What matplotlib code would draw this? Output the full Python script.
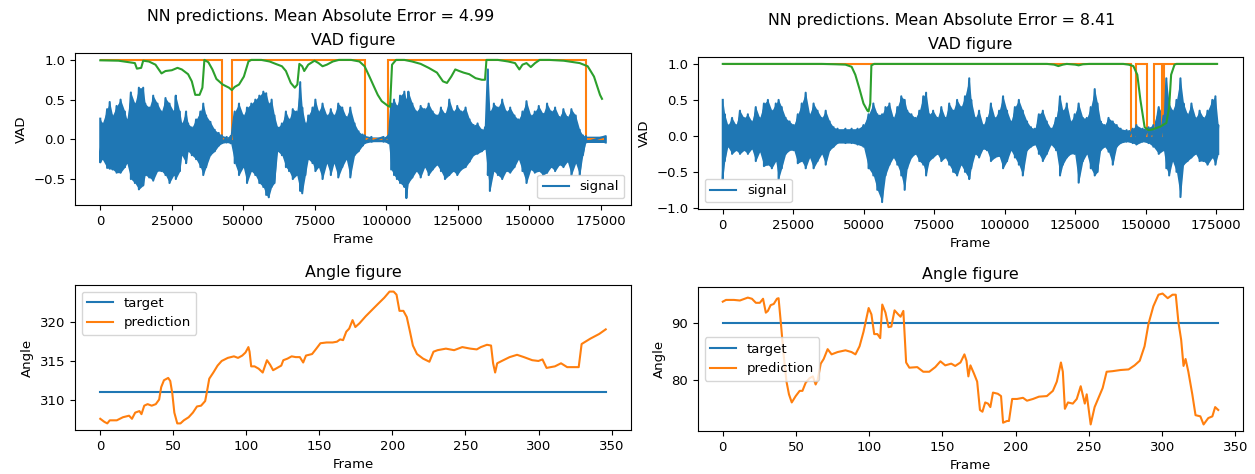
import numpy as np
import matplotlib
matplotlib.use("Agg")
import matplotlib.pyplot as plt
from matplotlib.ticker import MultipleLocator

# ---- left run (MAE 4.99) ----
mae_left = 4.99
# audio signal envelope: frame, upper peak, lower peak
sig_l_frames = [0, 700, 2400, 3300, 4300, 5700, 7100, 8600, 9300, 10700, 12100, 13500, 15000, 15700,
                17100, 18500, 20000, 21400, 22800, 24200, 25700, 26400, 27800, 28500, 30000, 30700,
                32000, 33500, 35000, 36000, 37000, 38500, 40000, 41400, 42500, 44200, 45600, 47000,
                48500, 50000, 51300, 52800, 54200, 55600, 57000, 58000, 58900, 59900, 60900, 62000,
                63500, 64900, 66000, 67300, 68700, 69900, 70600, 71700, 72700, 74200, 75200, 76300,
                77700, 79200, 80600, 81700, 83200, 84600, 86000, 87400, 88900, 90300, 91700, 92400,
                94800, 99000, 100800, 101700, 102700, 103700, 104800, 106300, 107000, 107700, 109100,
                110500, 112000, 113400, 114800, 116200, 117700, 119100, 120500, 122000, 123400,
                124800, 126200, 127700, 129100, 130500, 131900, 133400, 134500, 135500, 136200,
                137600, 139000, 140500, 141900, 143300, 144800, 146200, 147600, 149000, 150500,
                151900, 153300, 154800, 156200, 157600, 159000, 160500, 161900, 163300, 164700,
                166200, 167600, 168700, 169700, 176700]
sig_l_upper = [0.26, 0.20, 0.38, 0.47, 0.30, 0.42, 0.50, 0.35, 0.25, 0.59, 0.45, 0.65, 0.65, 0.45,
               0.40, 0.55, 0.45, 0.35, 0.52, 0.45, 0.35, 0.55, 0.35, 0.20, 0.35, 0.20,
               0.15, 0.25, 0.35, 0.45, 0.30, 0.22, 0.12, 0.08, 0.05, 0.03, 0.04, 0.35,
               0.45, 0.30, 0.40, 0.45, 0.50, 0.55, 0.60, 0.58, 0.45, 0.50, 0.30, 0.15,
               0.20, 0.35, 0.25, 0.38, 0.35, 0.72, 0.40, 0.20, 0.30, 0.40, 0.50, 0.35,
               0.45, 0.30, 0.38, 0.30, 0.45, 0.40, 0.28, 0.40, 0.20, 0.10, 0.06, 0.05,
               0.03, 0.03, 0.05, 0.45, 0.50, 0.42, 0.55, 0.60, 0.50, 0.60, 0.45,
               0.35, 0.42, 0.38, 0.45, 0.35, 0.30, 0.40, 0.32, 0.50, 0.35,
               0.42, 0.35, 0.40, 0.25, 0.18, 0.20, 0.12, 0.15, 0.88, 0.35,
               0.45, 0.40, 0.50, 0.35, 0.40, 0.30, 0.25, 0.35, 0.48, 0.30,
               0.35, 0.42, 0.32, 0.45, 0.35, 0.40, 0.28, 0.38, 0.28, 0.38,
               0.30, 0.12, 0.05, 0.04, 0.04]
sig_l_lower = [-0.29, -0.25, -0.36, -0.37, -0.38, -0.42, -0.42, -0.35, -0.30, -0.50, -0.55, -0.63, -0.58, -0.45,
               -0.48, -0.52, -0.40, -0.40, -0.45, -0.55, -0.45, -0.50, -0.40, -0.20, -0.30, -0.15,
               -0.20, -0.25, -0.35, -0.45, -0.35, -0.20, -0.15, -0.08, -0.05, -0.04, -0.05, -0.30,
               -0.45, -0.35, -0.55, -0.40, -0.45, -0.55, -0.60, -0.70, -0.73, -0.60, -0.55, -0.15,
               -0.20, -0.35, -0.40, -0.50, -0.45, -0.65, -0.68, -0.45, -0.25, -0.30, -0.40, -0.35,
               -0.50, -0.30, -0.45, -0.30, -0.48, -0.35, -0.25, -0.48, -0.20, -0.15, -0.08, -0.05,
               -0.03, -0.03, -0.05, -0.38, -0.45, -0.50, -0.55, -0.60, -0.74, -0.55, -0.48,
               -0.40, -0.48, -0.35, -0.45, -0.38, -0.32, -0.40, -0.50, -0.45, -0.40,
               -0.45, -0.38, -0.35, -0.28, -0.20, -0.18, -0.15, -0.12, -0.45, -0.65,
               -0.40, -0.45, -0.50, -0.40, -0.42, -0.35, -0.25, -0.40, -0.55, -0.38,
               -0.42, -0.40, -0.45, -0.42, -0.35, -0.40, -0.32, -0.35, -0.28, -0.45,
               -0.30, -0.45, -0.20, -0.04, -0.04]
# target VAD (step)
vad_l_edges = [0, 42500, 46100, 92400, 100700, 169700, 176000]
vad_l_levels = [1, 0, 1, 0, 1, 0]
# predicted VAD
pred_l_frames = [0, 6400, 12100, 12800, 14300, 15000, 17000, 19300, 21400, 22800, 25000, 27000,
                 28500, 30700, 32000, 33200, 34700, 35700, 36400, 37800, 39200, 40600, 42800,
                 45000, 46000, 47000, 48500, 50200, 51800, 52800, 56300, 59200, 61300, 63500,
                 64900, 66600, 68000, 68900, 69600, 70600, 71300, 72700, 74900, 76300, 77700,
                 79200, 81300, 83400, 87700, 90600, 92400, 94100, 95600, 97000, 98400, 100600,
                 101300, 102000, 103400, 106300, 109000, 112000, 114800, 117700, 119800, 121200,
                 122700, 124100, 125500, 127000, 129000, 131200, 133400, 134500, 135000, 139000,
                 142600, 145000, 146500, 147600, 149000, 150500, 152000, 153600, 157000, 162000,
                 167600, 170400, 172600, 174700, 175400]
pred_l_vad = [0.995, 0.99, 0.96, 0.89, 0.90, 0.99, 0.98, 0.94, 0.83, 0.86, 0.87, 0.90,
              0.88, 0.82, 0.73, 0.56, 0.56, 0.65, 1.0, 0.97, 0.88, 0.76, 0.69,
              0.65, 0.62, 0.66, 0.69, 0.79, 0.98, 1.0, 1.0, 0.98, 0.95, 0.92,
              0.86, 0.71, 0.65, 0.69, 0.95, 0.92, 0.86, 0.94, 0.99, 0.96, 0.92,
              0.94, 0.98, 1.0, 1.0, 0.98, 0.92, 0.79, 0.67, 0.56, 0.48, 0.42,
              0.41, 0.94, 1.0, 1.0, 0.98, 0.95, 0.90, 0.84, 0.73, 0.71,
              0.79, 0.88, 0.86, 0.84, 0.82, 0.77, 0.75, 0.75, 1.0, 1.0,
              0.98, 0.96, 0.88, 0.94, 0.96, 0.91, 0.96, 1.0, 1.0, 0.99,
              0.96, 0.92, 0.79, 0.56, 0.51]
# angle
ang_l_target = 311
ang_l_frames = [0, 2.8, 4.8, 6.5, 11.3, 15.5, 19.7, 21.7, 23.9, 26.8, 28.2, 30.1, 32.4, 35.2, 38, 40.3,
                41.7, 43.6, 46.5, 47.9, 49.3, 50.7, 52.7, 54.9, 57.2, 60.5, 63.4, 66.2, 69, 71.8,
                73.2, 74.6, 77.4, 80.3, 83.1, 87.3, 91.5, 94.3, 97.2, 99.4, 101.4, 102.2, 103.3,
                105.6, 108.4, 111.2, 114.1, 116.3, 118.3, 121.1, 123.9, 125.3, 128.1, 131, 133.8,
                136.6, 138.9, 140.8, 145, 147.9, 150.7, 154.9, 159.1, 162, 164.2, 166.2, 168.4,
                170.4, 172.7, 174.6, 177.5, 181.7, 185.9, 190.1, 194.4, 198, 200.8, 202.8, 204.8,
                207.5, 209.8, 212, 214, 216.8, 221, 225.3, 228.1, 230.9, 236.6, 242.2, 247.8,
                253.4, 257.7, 260.5, 264.7, 267.5, 268.9, 270.3, 271.7, 275.9, 280.2, 285.3, 290,
                295.7, 299.9, 302.7, 305.5, 308.3, 311.2, 315.4, 319.6, 325.2, 327.5, 329.5, 335.5,
                341.5, 346]
ang_l_pred = [307.5, 307.1, 306.9, 307.3, 307.3, 307.7, 307.9, 307.5, 308.3, 308.5, 308.1, 309.2, 309.4,
              309.2, 309.4, 310.0, 311.6, 312.5, 312.8, 312.4, 310.8, 308.3, 306.9, 306.9, 307.3,
              307.7, 308.3, 309.1, 309.2, 309.8, 311.2, 312.7, 313.5, 314.4, 315.0, 315.4, 315.6,
              315.4, 315.7, 316.1, 316.8, 316.2, 314.3, 314.3, 314.0, 313.5, 315.1, 314.5, 313.8,
              314.1, 314.4, 315.1, 315.3, 315.6, 315.5, 315.5, 314.8, 315.7, 315.9, 316.6, 317.3,
              317.4, 317.4, 317.5, 317.8, 317.7, 318.8, 319.2, 320.3, 319.4, 319.9, 320.8, 321.6,
              322.4, 323.2, 324.0, 324.0, 323.6, 321.5, 321.5, 320.7, 318.8, 317.0, 315.9, 315.3,
              314.9, 316.2, 316.4, 316.6, 316.4, 316.8, 316.6, 316.5, 316.8, 317.1, 317.0, 314.7,
              313.5, 314.7, 315.1, 315.5, 315.8, 315.5, 315.1, 315.0, 315.2, 314.1, 314.2, 314.3,
              314.7, 314.2, 314.2, 314.2, 317.2, 317.9, 318.5, 319.1]

# ---- right run (MAE 8.41) ----
mae_right = 8.41
sig_r_frames = [0, 700, 1800, 3300, 4700, 6100, 7500, 8900, 10300, 11700, 13100, 14600, 16000, 17400,
                18800, 19800, 20900, 22300, 23700, 25200, 26600, 28000, 29400, 30800, 32200, 33600,
                35100, 36500, 37900, 39300, 40700, 43500, 45700, 47800, 49900, 51700, 53400, 54800,
                56500, 57700, 59100, 60500, 61900, 63300, 64500, 65400, 66900, 68300, 69700, 71100,
                72100, 73200, 74600, 76100, 77500, 78900, 80300, 81700, 83100, 84500, 85900, 87400,
                88100, 89500, 90900, 92300, 93700, 95100, 96500, 98000, 99400, 100800, 102200,
                103600, 105000, 106400, 107900, 109300, 110700, 112100, 113500, 114900, 116400,
                118200, 119600, 120600, 122000, 123400, 124800, 126200, 127700, 129100, 130500,
                131900, 132900, 134000, 135400, 136800, 138300, 139700, 141100, 143200, 145400,
                146700, 148900, 151000, 152700, 154600, 156300, 157300, 158300, 159500, 160900,
                162300, 163400, 164800, 166200, 167700, 169100, 170500, 171900, 173600, 174700, 175700]
sig_r_upper = [0.50, 0.30, 0.15, 0.25, 0.15, 0.35, 0.25, 0.30, 0.20, 0.40, 0.25, 0.45, 0.50, 0.35,
               0.45, 0.50, 0.40, 0.25, 0.20, 0.15, 0.30, 0.45, 0.60, 0.30, 0.45, 0.35,
               0.25, 0.35, 0.20, 0.12, 0.10, 0.10, 0.10, 0.10, 0.15, 0.30, 0.45, 0.30,
               0.30, 0.40, 0.45, 0.25, 0.40, 0.55, 0.50, 0.35, 0.30, 0.25, 0.35, 0.55,
               0.60, 0.30, 0.35, 0.25, 0.40, 0.25, 0.45, 0.35, 0.50, 0.40, 0.55, 0.80,
               0.50, 0.25, 0.35, 0.15, 0.25, 0.45, 0.25, 0.35, 0.55, 0.35, 0.20,
               0.40, 0.50, 0.35, 0.20, 0.12, 0.10, 0.30, 0.35, 0.20, 0.10,
               0.25, 0.55, 0.35, 0.45, 0.20, 0.30, 0.45, 0.25, 0.25, 0.40,
               0.65, 0.45, 0.20, 0.15, 0.25, 0.20, 0.15, 0.10, 0.08, 0.10,
               0.15, 0.10, 0.12, 0.15, 0.40, 0.28, 0.80, 0.45, 0.35, 0.50,
               0.80, 0.45, 0.30, 0.45, 0.25, 0.35, 0.25, 0.35, 0.50, 0.55, 0.15]
sig_r_lower = [-0.60, -0.35, -0.15, -0.25, -0.20, -0.25, -0.20, -0.25, -0.18, -0.35, -0.22, -0.42, -0.40, -0.45,
               -0.35, -0.60, -0.45, -0.25, -0.20, -0.20, -0.38, -0.35, -0.45, -0.30, -0.45, -0.35,
               -0.25, -0.40, -0.20, -0.15, -0.10, -0.10, -0.10, -0.12, -0.15, -0.45, -0.55, -0.75,
               -0.92, -0.55, -0.40, -0.30, -0.40, -0.55, -0.75, -0.45, -0.30, -0.25, -0.35, -0.40,
               -0.55, -0.35, -0.30, -0.25, -0.35, -0.30, -0.40, -0.50, -0.55, -0.40, -0.50, -0.60,
               -0.45, -0.25, -0.30, -0.18, -0.20, -0.35, -0.30, -0.28, -0.45, -0.35, -0.20,
               -0.30, -0.40, -0.55, -0.20, -0.15, -0.12, -0.25, -0.35, -0.25, -0.12,
               -0.20, -0.55, -0.40, -0.30, -0.25, -0.25, -0.65, -0.35, -0.25, -0.45,
               -0.55, -0.50, -0.20, -0.15, -0.22, -0.40, -0.15, -0.10, -0.08, -0.10,
               -0.12, -0.08, -0.10, -0.15, -0.25, -0.20, -0.45, -0.55, -0.35, -0.50,
               -0.85, -0.40, -0.35, -0.30, -0.25, -0.35, -0.35, -0.40, -0.30, -0.40, -0.25]
vad_r_edges = [0, 144600, 146700, 150500, 152800, 155600, 156600, 175300]
vad_r_levels = [1, 0, 1, 0, 1, 0, 1]
pred_r_frames = [0, 35000, 40000, 43500, 45700, 47000, 48500, 49900, 51300, 51700, 52300, 52700,
                 53700, 115000, 117500, 119000, 120600, 122000, 125000, 126200, 127700, 130000,
                 142000, 143900, 145600, 147000, 148100, 149600, 151000, 152400, 155200, 157300,
                 158300, 159000, 160200, 160900, 175300]
pred_r_vad = [1.0, 1.0, 0.995, 0.99, 0.96, 0.85, 0.65, 0.45, 0.35, 0.34, 0.45, 0.98,
              1.0, 1.0, 0.99, 0.97, 0.99, 1.0, 0.99, 0.98, 0.995, 1.0,
              1.0, 0.99, 0.97, 0.85, 0.5, 0.12, 0.08, 0.09, 0.13, 0.18,
              0.4, 0.85, 0.99, 1.0, 1.0]
ang_r_target = 90
ang_r_frames = [0, 2.2, 7.6, 11.7, 17.1, 19.9, 22.6, 25.3, 27.5, 29.4, 30.8, 32.7, 34.8, 37, 38.1, 39.7,
                41.6, 43.5, 45.2, 47.1, 49.8, 52.5, 54.4, 56.6, 59.3, 61.5, 63.4, 64.8, 66.9, 68.9,
                71.6, 74.3, 78.4, 83.8, 87.9, 90.6, 93.4, 96.1, 99.6, 101.5, 103.4, 105.6, 107.5,
                108.9, 111.1, 113.2, 115.1, 117.3, 119.8, 121.4, 123.3, 125.2, 127.4, 132.8, 136.9,
                141, 145.1, 148.6, 151.9, 156, 158.7, 162.3, 165, 166.4, 167.7, 169.1, 171.5, 173.7,
                175.6, 177.3, 179.2, 181.1, 182.7, 184.5, 187.8, 190, 191.4, 194.1, 195.4, 197.6,
                200.9, 205, 207.7, 211.8, 215.9, 221.3, 225.4, 228.1, 230.9, 232.2, 233.6, 235.7,
                239, 241.7, 244.4, 247.2, 248.5, 249.9, 251.2, 253.9, 256.7, 259.4, 262.1, 266.2,
                271.6, 277.1, 281.2, 284.7, 288, 290.7, 294, 297.5, 300.3, 303.8, 307.1, 309.3,
                311.1, 313, 314.6, 316, 317.9, 320.6, 322.8, 326.1, 328.3, 331.5, 334.3, 336.2, 338.3]
ang_r_pred = [93.6, 93.9, 93.9, 93.8, 94.3, 94.1, 93.4, 93.4, 94.1, 91.7, 92.0, 93.0, 93.2, 94.1, 94.2,
              89.8, 84.3, 79.8, 77.6, 76.2, 77.3, 78.2, 78.2, 79.6, 80.4, 80.7, 79.3, 80.1, 82.9,
              83.7, 85.4, 84.5, 84.9, 85.2, 84.9, 84.5, 85.9, 88.4, 92.5, 91.4, 88.0, 88.0, 87.3,
              93.1, 91.7, 89.2, 89.3, 92.1, 91.4, 91.0, 92.0, 83.1, 82.2, 82.3, 81.5, 81.5, 82.3,
              83.3, 82.6, 82.9, 82.5, 83.1, 84.5, 83.4, 80.7, 82.6, 81.2, 79.8, 74.9, 74.6, 76.2,
              76.0, 75.4, 77.9, 77.7, 77.3, 72.7, 73.0, 73.0, 76.8, 76.8, 77.0, 76.5, 76.8, 77.2,
              77.3, 78.2, 79.8, 83.1, 81.5, 75.1, 76.2, 76.0, 76.8, 79.0, 76.0, 77.6, 74.9, 72.4,
              75.4, 77.1, 78.7, 81.5, 81.6, 81.8, 81.9, 82.6, 83.4, 85.9, 89.8, 92.8, 94.8, 95.0,
              94.2, 94.8, 94.8, 90.1, 87.0, 82.5, 83.7, 81.5, 77.6, 74.0, 73.8, 72.4, 73.5, 73.8,
              75.4, 74.9]

W, H = 1255, 474
plt.rcParams['font.size'] = 9.5
fig = plt.figure(figsize=(W / 100, H / 100), dpi=100)


def px_axes(x0, x1, ytop, ybot):
    return fig.add_axes([x0 / W, 1 - ybot / H, (x1 - x0) / W, (ybot - ytop) / H])


def vad_panel(ax, frames, upper, lower, edges, levels, pframes, pvad, legend_loc):
    # dense audio trace: solid band between the peaks plus a zigzag line
    ax.fill_between(frames, lower, upper, color='C0', linewidth=0)
    x = np.repeat(frames, 2)
    y = np.column_stack([upper, lower]).ravel()
    ax.plot(x, y, color='C0', label='signal')
    ax.stairs(levels, edges, baseline=None, color='C1', linewidth=1.5)
    ax.plot(pframes, pvad, color='C2')
    ax.set_title('VAD figure')
    ax.set_xlabel('Frame')
    ax.set_ylabel('VAD')
    ax.legend(loc=legend_loc)


def angle_panel(ax, frames, pred, target, legend_loc):
    ax.plot([frames[0], frames[-1]], [target, target], color='C0', label='target')
    ax.plot(frames, pred, color='C1', label='prediction')
    ax.set_title('Angle figure')
    ax.set_xlabel('Frame')
    ax.set_ylabel('Angle')
    ax.legend(loc=legend_loc)


ax1 = px_axes(75, 631, 53, 205)
vad_panel(ax1, sig_l_frames, sig_l_upper, sig_l_lower, vad_l_edges, vad_l_levels,
          pred_l_frames, pred_l_vad, 'lower right')
ax2 = px_axes(75, 631, 285, 430)
angle_panel(ax2, ang_l_frames, ang_l_pred, ang_l_target, 'upper left')

ax3 = px_axes(698, 1243, 57, 209)
vad_panel(ax3, sig_r_frames, sig_r_upper, sig_r_lower, vad_r_edges, vad_r_levels,
          pred_r_frames, pred_r_vad, 'lower left')
ax4 = px_axes(698, 1243, 287, 431)
angle_panel(ax4, ang_r_frames, ang_r_pred, ang_r_target, 'center left')
ax4.yaxis.set_major_locator(MultipleLocator(10))

fig.text(321 / W, 1 - 16 / H, f'NN predictions. Mean Absolute Error = {mae_left}',
         ha='center', va='center', fontsize=11.4)
fig.text(942 / W, 1 - 21 / H, f'NN predictions. Mean Absolute Error = {mae_right}',
         ha='center', va='center', fontsize=11.4)

fig.savefig('out.png', dpi=100)
